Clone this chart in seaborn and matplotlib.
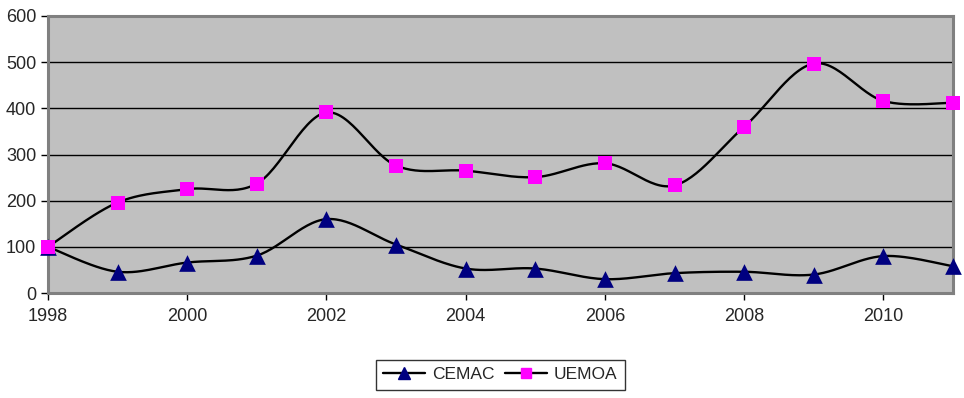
import numpy as np
import pandas as pd
import matplotlib
matplotlib.use("Agg")
import matplotlib.pyplot as plt
from matplotlib.lines import Line2D
import seaborn as sns

# Data
years = [1998, 1999, 2000, 2001, 2002, 2003, 2004, 2005, 2006, 2007, 2008, 2009, 2010, 2011]
cemac = [100, 46, 66, 81, 160, 105, 53, 53, 30, 43, 46, 40, 80, 58]
uemoa = [100, 196, 225, 237, 391, 276, 265, 251, 281, 233, 360, 497, 416, 412]


# Excel-like smoothed line (Catmull-Rom through the points)
def smooth(x, y, n=30):
    x = np.asarray(x, float)
    y = np.asarray(y, float)
    px = np.concatenate([[x[0]], x, [x[-1]]])
    py = np.concatenate([[y[0]], y, [y[-1]]])
    xs, ys = [], []
    t = np.linspace(0, 1, n)
    for i in range(1, len(px) - 2):
        p0, p1, p2, p3 = (np.array([px[j], py[j]]) for j in range(i - 1, i + 3))
        c1 = p1 + (p2 - p0) / 6
        c2 = p2 - (p3 - p1) / 6
        pts = ((1 - t) ** 3)[:, None] * p1 + (3 * (1 - t) ** 2 * t)[:, None] * c1 \
            + (3 * (1 - t) * t ** 2)[:, None] * c2 + (t ** 3)[:, None] * p2
        xs.extend(pts[:, 0])
        ys.extend(pts[:, 1])
    return np.array(xs), np.array(ys)


sns.set_style("white")
plt.rcParams['font.family'] = ['Liberation Sans', 'DejaVu Sans']

fig = plt.figure(figsize=(9.64, 3.98), dpi=100)
ax = fig.add_axes([0.0498, 0.2638, 0.9388, 0.696])
ax.set_facecolor("#c0c0c0")

series = [("CEMAC", cemac, "^", "#000080", 12), ("UEMOA", uemoa, "s", "#ff00ff", 10.5)]
handles = []
for name, vals, mk, col, ms in series:
    sx, sy = smooth(years, vals)
    sns.lineplot(x=sx, y=sy, ax=ax, color="black", linewidth=1.7, sort=False,
                 estimator=None, zorder=3)
    df = pd.DataFrame({"year": years, "val": vals})
    sns.scatterplot(data=df, x="year", y="val", ax=ax, marker=mk, color=col,
                    s=ms ** 2, edgecolor=col, linewidth=0, zorder=4, clip_on=False)
    handles.append(Line2D([], [], color="black", linewidth=1.7, marker=mk,
                          markerfacecolor=col, markeredgecolor=col, markersize=ms * 0.75,
                          label=name))

ax.set_xlim(1998, 2011)
ax.set_ylim(0, 600)
ax.set_xticks(range(1998, 2011, 2))
ax.set_yticks(range(0, 601, 100))
for yv in range(100, 600, 100):
    ax.axhline(yv, color="black", linewidth=1, zorder=1)

for s in ax.spines.values():
    s.set_color("#808080")
    s.set_linewidth(2.2)
ax.tick_params(axis="both", which="major", direction="out", length=5, width=1,
               color="black", labelsize=13, left=True, bottom=True)
ax.tick_params(axis="x", pad=6)
ax.set_xlabel("")
ax.set_ylabel("")

leg = fig.legend(handles=handles, loc="center", bbox_to_anchor=(0.519, 0.058), ncol=2,
                 frameon=True, fancybox=False, edgecolor="black", fontsize=12.5,
                 handlelength=2.4, columnspacing=0.6, handletextpad=0.4,
                 borderpad=0.45, borderaxespad=0)
leg.get_frame().set_linewidth(1)

fig.savefig("out.png", dpi=100)
